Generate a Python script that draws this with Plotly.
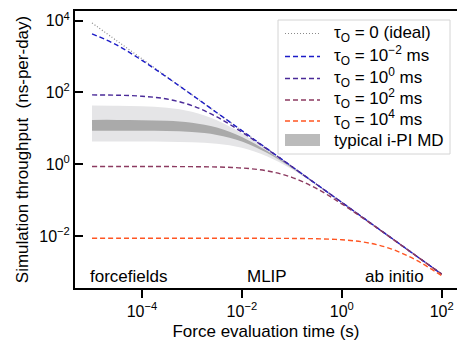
import plotly.graph_objects as go

# Force evaluation time (s), sampled every half decade
force_time = [1e-5, 3.16e-5, 1e-4, 3.16e-4, 1e-3, 3.16e-3, 1e-2, 3.16e-2,
              1e-1, 3.16e-1, 1, 3.16, 10, 31.6, 100]

# Simulation throughput (ns-per-day)
ideal = [8640, 2730, 864, 273, 86.4, 27.3, 8.64, 2.73, 0.864, 0.273,
         0.0864, 0.0273, 0.00864, 0.00273, 0.000864]
tau_m2 = [4320, 2080, 785, 265, 85.5, 27.2, 8.63, 2.73, 0.864, 0.273,
          0.0864, 0.0273, 0.00864, 0.00273, 0.000864]
tau_0 = [85.5, 83.8, 78.5, 65.6, 43.2, 20.8, 7.85, 2.65, 0.855, 0.272,
         0.0863, 0.0273, 0.00864, 0.00273, 0.000864]
tau_2 = [0.864, 0.864, 0.863, 0.861, 0.855, 0.838, 0.785, 0.656, 0.432, 0.208,
         0.0785, 0.0265, 0.00855, 0.00272, 0.000863]
tau_4 = [0.00864, 0.00864, 0.00864, 0.00864, 0.00864, 0.00864, 0.00863, 0.00861,
         0.00855, 0.00838, 0.00785, 0.00656, 0.00432, 0.00208, 0.000785]

# typical i-PI MD band (first 11 sample times)
band_time = force_time[:11]
light_hi = [43.0, 42.5, 41.1, 37.3, 28.8, 16.7, 7.2, 2.57, 0.847, 0.271, 0.0862]
light_lo = [4.32, 4.31, 4.30, 4.25, 4.11, 3.73, 2.88, 1.67, 0.72, 0.257, 0.0847]
dark_hi = [17.2, 17.2, 16.9, 16.2, 14.4, 10.6, 5.76, 2.36, 0.823, 0.269, 0.0860]
dark_lo = [8.63, 8.61, 8.55, 8.37, 7.85, 6.56, 4.32, 2.08, 0.785, 0.264, 0.0855]

series_names = ["τ<sub>O</sub> = 0 (ideal)",
                "τ<sub>O</sub> = 10<sup>−2</sup> ms",
                "τ<sub>O</sub> = 10<sup>0</sup> ms",
                "τ<sub>O</sub> = 10<sup>2</sup> ms",
                "τ<sub>O</sub> = 10<sup>4</sup> ms"]
band_name = "typical i-PI MD"
series_vals = [ideal, tau_m2, tau_0, tau_2, tau_4]
series_colors = ["#8a8a8a", "#1c1cc8", "#4a2a98", "#8c3a60", "#ff5522"]
series_dash = ["1px,2px", "5px,3px", "5px,3px", "5px,3px", "5px,3px"]
band_legend_color = "#bbbbbb"

x_tickvals = [1e-4, 1e-2, 1, 1e2]
x_ticktext = ["10<sup>−4</sup>", "10<sup>−2</sup>", "10<sup>0</sup>", "10<sup>2</sup>"]
y_tickvals = [1e-2, 1, 1e2, 1e4]
y_ticktext = ["10<sup>−2</sup>", "10<sup>0</sup>", "10<sup>2</sup>", "10<sup>4</sup>"]

region_labels = ["forcefields", "MLIP", "ab initio"]
region_pos = [0.034, 0.445, 0.753]

FONT = "Liberation Sans, Arial, sans-serif"

# plot-area geometry (pixels) used for the hand-placed legend
W, H = 457, 349
ML, MT, MB = 75, 11, 61
PW, PH = W - ML, H - MT - MB


def px(xpix):
    return (xpix - ML) / PW


def py(ypix):
    return (H - MB - ypix) / PH


fig = go.Figure()

# bands
fig.add_trace(go.Scatter(x=band_time, y=light_hi, mode="lines", line=dict(width=0, shape="spline"),
                         showlegend=False, hoverinfo="skip"))
fig.add_trace(go.Scatter(x=band_time, y=light_lo, mode="lines", line=dict(width=0, shape="spline"),
                         fill="tonexty", fillcolor="#e5e5e7", showlegend=False, hoverinfo="skip"))
fig.add_trace(go.Scatter(x=band_time, y=dark_hi, mode="lines", line=dict(width=0, shape="spline"),
                         showlegend=False, hoverinfo="skip"))
fig.add_trace(go.Scatter(x=band_time, y=dark_lo, mode="lines", line=dict(width=0, shape="spline"),
                         fill="tonexty", fillcolor="#aaaaaa", showlegend=False, hoverinfo="skip"))

for i, (name, vals, col, dsh) in enumerate(zip(series_names, series_vals, series_colors, series_dash)):
    fig.add_trace(go.Scatter(x=force_time, y=vals, mode="lines", name=name, showlegend=False,
                             line=dict(color=col, width=1.2 if i == 0 else 1.4, dash=dsh, shape="spline")))

# hand-placed legend (box, samples, labels)
fig.add_shape(type="rect", xref="paper", yref="paper", x0=px(278), x1=px(450), y0=py(20), y1=py(154),
              line=dict(color="#d4d4d4", width=1), fillcolor="white", layer="above")
row_y = [33.5, 55, 77, 98.5, 119.5, 140.5]
for i, (name, col, dsh) in enumerate(zip(series_names, series_colors, series_dash)):
    yl = row_y[i] + (0 if i == 0 else 1.5)
    fig.add_shape(type="line", xref="paper", yref="paper", x0=px(285), x1=px(320), y0=py(yl), y1=py(yl),
                  line=dict(color=col, width=1.2 if i == 0 else 1.4, dash=dsh), layer="above")
    fig.add_annotation(text=name, xref="paper", yref="paper", x=px(332), y=py(row_y[i]),
                       xanchor="left", yanchor="middle", showarrow=False,
                       font=dict(size=17, color="black", family=FONT))
fig.add_shape(type="rect", xref="paper", yref="paper", x0=px(285), x1=px(320), y0=py(134), y1=py(146),
              line=dict(width=0), fillcolor=band_legend_color, layer="above")
fig.add_annotation(text=band_name, xref="paper", yref="paper", x=px(332), y=py(row_y[5]),
                   xanchor="left", yanchor="middle", showarrow=False,
                   font=dict(size=17, color="black", family=FONT))

for lab, pxx in zip(region_labels, region_pos):
    fig.add_annotation(text=lab, xref="paper", yref="paper", x=pxx, y=0.04,
                       xanchor="left", yanchor="middle", showarrow=False,
                       font=dict(size=17, color="black", family=FONT))

fig.update_layout(
    width=W, height=H,
    margin=dict(l=ML, r=0, t=MT, b=MB),
    paper_bgcolor="white", plot_bgcolor="white",
    font=dict(family=FONT, color="black", size=17),
    showlegend=False,
    xaxis=dict(type="log", range=[-5.341, 2.306], showgrid=False, zeroline=False,
               tickvals=x_tickvals, ticktext=x_ticktext,
               showline=True, linecolor="black", linewidth=2, mirror=True,
               ticks="outside", ticklen=8, tickwidth=2, tickcolor="black",
               tickfont=dict(size=16, family=FONT),
               title=dict(text="Force evaluation time (s)", font=dict(size=17, family=FONT), standoff=6)),
    yaxis=dict(type="log", range=[-3.449, 4.270], showgrid=False, zeroline=False,
               tickvals=y_tickvals, ticktext=y_ticktext,
               showline=True, linecolor="black", linewidth=2,
               ticks="inside", ticklen=8, tickwidth=2, tickcolor="black",
               tickfont=dict(size=16, family=FONT),
               title=dict(text="Simulation throughput\u00a0\u00a0(ns-per-day)",
                          font=dict(size=17, family=FONT), standoff=6)),
)

fig.write_html("out.html")
